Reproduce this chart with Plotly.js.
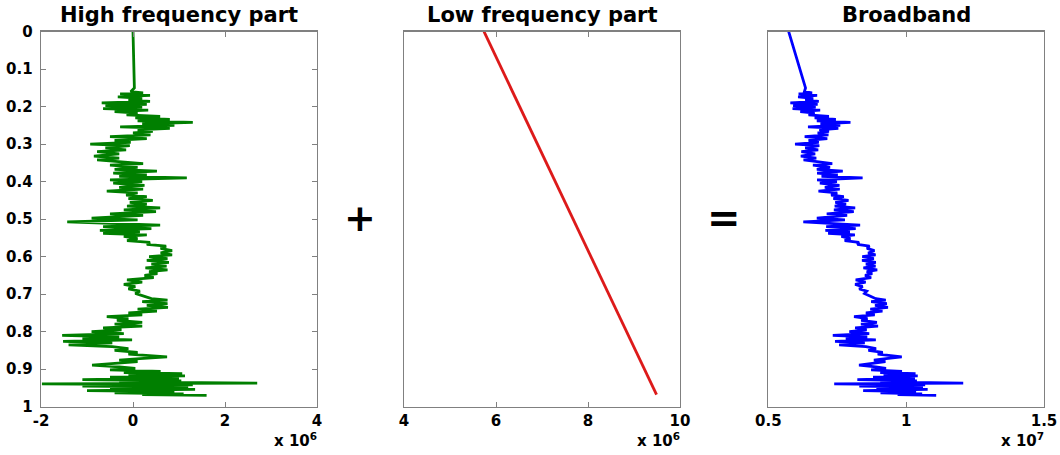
<!DOCTYPE html>
<html>
<head>
<meta charset="utf-8">
<script src="https://cdn.plot.ly/plotly-3.0.1.min.js"></script>
<style>html,body{margin:0;padding:0;background:#fff;}#chart{width:1060px;height:455px;}</style>
</head>
<body>
<div id="chart"></div>
<script>
// Depth samples (normalised, 0 = top, 1 = bottom)
const depth = [0.000,0.050,0.100,0.150,0.160,0.163,0.166,0.170,0.174,0.178,0.182,0.186,0.190,0.194,0.197,0.201,0.205,0.209,0.213,0.217,
0.222,0.226,0.230,0.234,0.238,0.242,0.246,0.250,0.254,0.258,0.262,0.266,0.270,0.275,0.280,0.285,0.290,0.295,0.300,0.304,
0.310,0.315,0.320,0.326,0.332,0.337,0.342,0.347,0.352,0.356,0.362,0.367,0.372,0.377,0.382,0.386,0.390,0.395,0.400,0.404,
0.410,0.415,0.420,0.425,0.430,0.436,0.440,0.445,0.450,0.455,0.460,0.465,0.470,0.475,0.480,0.486,0.490,0.497,0.502,0.507,
0.512,0.516,0.520,0.525,0.530,0.534,0.538,0.542,0.546,0.552,0.557,0.562,0.567,0.572,0.578,0.584,0.590,0.595,0.600,0.605,
0.610,0.615,0.620,0.625,0.630,0.635,0.640,0.645,0.650,0.656,0.662,0.668,0.674,0.680,0.686,0.692,0.698,0.705,0.712,0.716,
0.720,0.725,0.730,0.735,0.740,0.745,0.750,0.755,0.760,0.765,0.770,0.775,0.780,0.785,0.790,0.795,0.800,0.805,0.810,0.814,
0.818,0.822,0.826,0.830,0.835,0.840,0.845,0.850,0.855,0.860,0.864,0.867,0.872,0.876,0.880,0.885,0.889,0.894,0.898,0.902,
0.906,0.909,0.912,0.915,0.918,0.921,0.924,0.928,0.931,0.934,0.937,0.939,0.942,0.945,0.948,0.951,0.954,0.957,0.960,0.963,
0.966,0.968,0.970];

// High frequency part (x 10^6)
const highFreq = [0.00,0.01,0.02,0.03,-0.05,0.22,-0.28,0.37,-0.33,0.20,-0.10,0.37,-0.68,0.30,-0.60,0.20,-0.65,0.33,-0.40,0.10,
-0.14,0.59,0.05,0.80,0.10,1.30,0.20,0.90,-0.28,0.80,0.10,0.43,0.00,0.38,-0.50,0.30,-0.40,-0.05,-0.93,-0.07,
-0.60,-0.15,-0.78,-0.30,-0.85,-0.30,-0.78,-0.30,0.22,-0.50,0.10,-0.40,0.52,-0.43,0.30,-0.30,1.17,-0.50,0.20,-0.43,
0.25,-0.30,0.22,-0.57,0.10,-0.15,0.30,-0.10,0.43,-0.07,0.30,-0.13,0.59,-0.20,0.50,-0.50,0.22,-0.90,0.10,-1.43,
-0.13,0.59,-0.65,0.40,-0.72,0.15,-0.65,0.30,-0.20,0.10,-0.13,0.37,0.30,0.72,0.60,0.85,0.60,0.85,0.35,0.75,
0.30,0.78,0.40,0.73,0.27,0.75,0.35,0.53,0.25,0.45,-0.13,0.20,-0.20,0.05,-0.10,0.15,0.05,0.25,0.40,0.75,
0.20,0.75,0.30,0.76,0.10,0.52,-0.10,0.20,-0.57,-0.10,-0.35,0.20,-0.40,0.20,-0.65,-0.25,-0.90,-0.20,-1.54,-0.30,
-1.10,-0.02,-1.52,-0.45,-1.40,-0.45,-0.10,-0.40,0.10,-0.10,0.40,0.74,0.15,-0.30,0.10,-0.60,-0.89,-0.30,0.05,-0.50,
0.60,-0.20,1.07,-0.10,1.13,-0.50,1.00,-1.10,1.05,-0.30,2.70,-1.98,1.30,-1.10,1.20,-0.50,1.35,-1.00,0.90,-0.40,
1.10,0.20,1.60];

// Low frequency part (x 10^6): straight trend, end points
const lowDepth = [0.000, 0.968];
const lowFreq = [5.74, 9.49];

// Broadband (x 10^7)
const broadband = [0.574,0.594,0.615,0.635,0.631,0.659,0.610,0.677,0.608,0.663,0.634,0.683,0.580,0.679,0.590,0.672,0.588,0.688,0.616,0.668,
0.646,0.720,0.668,0.745,0.676,0.798,0.689,0.761,0.644,0.754,0.685,0.720,0.679,0.718,0.632,0.714,0.646,0.683,0.597,0.685,
0.634,0.681,0.620,0.670,0.618,0.674,0.628,0.678,0.732,0.662,0.724,0.676,0.770,0.677,0.752,0.693,0.842,0.677,0.749,0.687,
0.758,0.705,0.759,0.682,0.750,0.728,0.774,0.736,0.791,0.743,0.782,0.741,0.815,0.738,0.810,0.712,0.786,0.676,0.778,0.627,
0.759,0.833,0.710,0.817,0.707,0.796,0.717,0.814,0.765,0.798,0.777,0.829,0.823,0.867,0.858,0.885,0.862,0.889,0.841,0.883,
0.840,0.890,0.854,0.889,0.845,0.895,0.857,0.877,0.851,0.873,0.817,0.853,0.815,0.842,0.830,0.857,0.849,0.872,0.890,0.926,
0.873,0.930,0.887,0.934,0.870,0.914,0.854,0.886,0.811,0.860,0.837,0.894,0.836,0.898,0.815,0.857,0.794,0.866,0.734,0.859,
0.781,0.890,0.742,0.850,0.757,0.854,0.891,0.863,0.915,0.897,0.948,0.984,0.927,0.883,0.925,0.857,0.829,0.890,0.927,0.873,
0.985,0.906,1.034,0.918,1.042,0.880,1.032,0.823,1.039,0.906,1.207,0.739,1.069,0.830,1.061,0.892,1.078,0.844,1.036,0.907,
1.058,0.969,1.109];

const panelTitles = ['High frequency part', 'Low frequency part', 'Broadband'];
const x1Ticks = [-2, 0, 2, 4];
const x2Ticks = [4, 6, 8, 10];
const x3Ticks = [0.5, 1, 1.5];
const x3TickText = ['0.5', '1', '1.5'];
const yTicks = [0, 0.1, 0.2, 0.3, 0.4, 0.5, 0.6, 0.7, 0.8, 0.9, 1];
const yTickText = ['0', '0.1', '0.2', '0.3', '0.4', '0.5', '0.6', '0.7', '0.8', '0.9', '1'];
const exponents = ['6', '6', '7'];

const FONT = 'DejaVu Sans, Liberation Sans, Arial, sans-serif';
const W = 1060, H = 455;
const px = (a, b) => [a / W, b / W];
const yDom = [1 - 406.7 / H, 1 - 31.7 / H];

const axisBase = {
  showgrid: false, zeroline: false, showline: true, linecolor: '#808080', linewidth: 1.3,
  mirror: 'ticks', ticks: 'inside', ticklen: 5, tickwidth: 1, tickcolor: '#808080',
  tickfont: {family: FONT, size: 15, color: '#000', weight: 'bold'}
};

const traces = [
  {x: highFreq, y: depth, xaxis: 'x', yaxis: 'y', mode: 'lines', line: {color: '#007f00', width: 2.8}, hoverinfo: 'skip'},
  {x: lowFreq, y: lowDepth, xaxis: 'x2', yaxis: 'y2', mode: 'lines', line: {color: '#dd1a1a', width: 2.8}, hoverinfo: 'skip'},
  {x: broadband, y: depth, xaxis: 'x3', yaxis: 'y3', mode: 'lines', line: {color: '#0000ff', width: 2.8}, hoverinfo: 'skip'}
];

const xDomains = [px(41, 317), px(404, 680), px(768.3, 1044)];
const annotations = [];
panelTitles.forEach((t, i) => {
  const d = xDomains[i];
  annotations.push({text: t, xref: 'paper', yref: 'paper', x: (d[0] + d[1]) / 2, y: 1 - 15 / H,
    xanchor: 'center', yanchor: 'middle', showarrow: false,
    font: {family: FONT, size: 21, color: '#000', weight: 'bold'}});
  annotations.push({text: 'x 10<sup>' + exponents[i] + '</sup>', xref: 'paper', yref: 'paper', x: d[1] + 2 / W, y: 1 - 440 / H,
    xanchor: 'right', yanchor: 'middle', showarrow: false,
    font: {family: FONT, size: 15, color: '#000', weight: 'bold'}});
});
annotations.push({text: '+', xref: 'paper', yref: 'paper', x: 360 / W, y: 1 - 218 / H, xanchor: 'center', yanchor: 'middle',
  showarrow: false, font: {family: FONT, size: 38, color: '#000', weight: 'bold'}});
annotations.push({text: '=', xref: 'paper', yref: 'paper', x: 724 / W, y: 1 - 218 / H, xanchor: 'center', yanchor: 'middle',
  showarrow: false, font: {family: FONT, size: 40, color: '#000', weight: 'bold'}});

const layout = {
  width: W, height: H, margin: {l: 0, r: 0, t: 0, b: 0},
  paper_bgcolor: '#fff', plot_bgcolor: '#fff', showlegend: false,
  xaxis: Object.assign({}, axisBase, {domain: xDomains[0], range: [-2, 4], tickvals: x1Ticks, ticktext: x1Ticks.map(String), anchor: 'y'}),
  yaxis: Object.assign({}, axisBase, {domain: yDom, range: [1, 0], tickvals: yTicks, ticktext: yTickText, anchor: 'x', ticklabelstandoff: 4}),
  xaxis2: Object.assign({}, axisBase, {domain: xDomains[1], range: [4, 10], tickvals: x2Ticks, ticktext: x2Ticks.map(String), anchor: 'y2'}),
  yaxis2: Object.assign({}, axisBase, {domain: yDom, range: [1, 0], ticks: '', showticklabels: false, anchor: 'x2'}),
  xaxis3: Object.assign({}, axisBase, {domain: xDomains[2], range: [0.5, 1.5], tickvals: x3Ticks, ticktext: x3TickText, anchor: 'y3'}),
  yaxis3: Object.assign({}, axisBase, {domain: yDom, range: [1, 0], ticks: '', showticklabels: false, anchor: 'x3'}),
  annotations: annotations
};

Plotly.newPlot('chart', traces, layout, {staticPlot: true, displayModeBar: false});
</script>
</body>
</html>
